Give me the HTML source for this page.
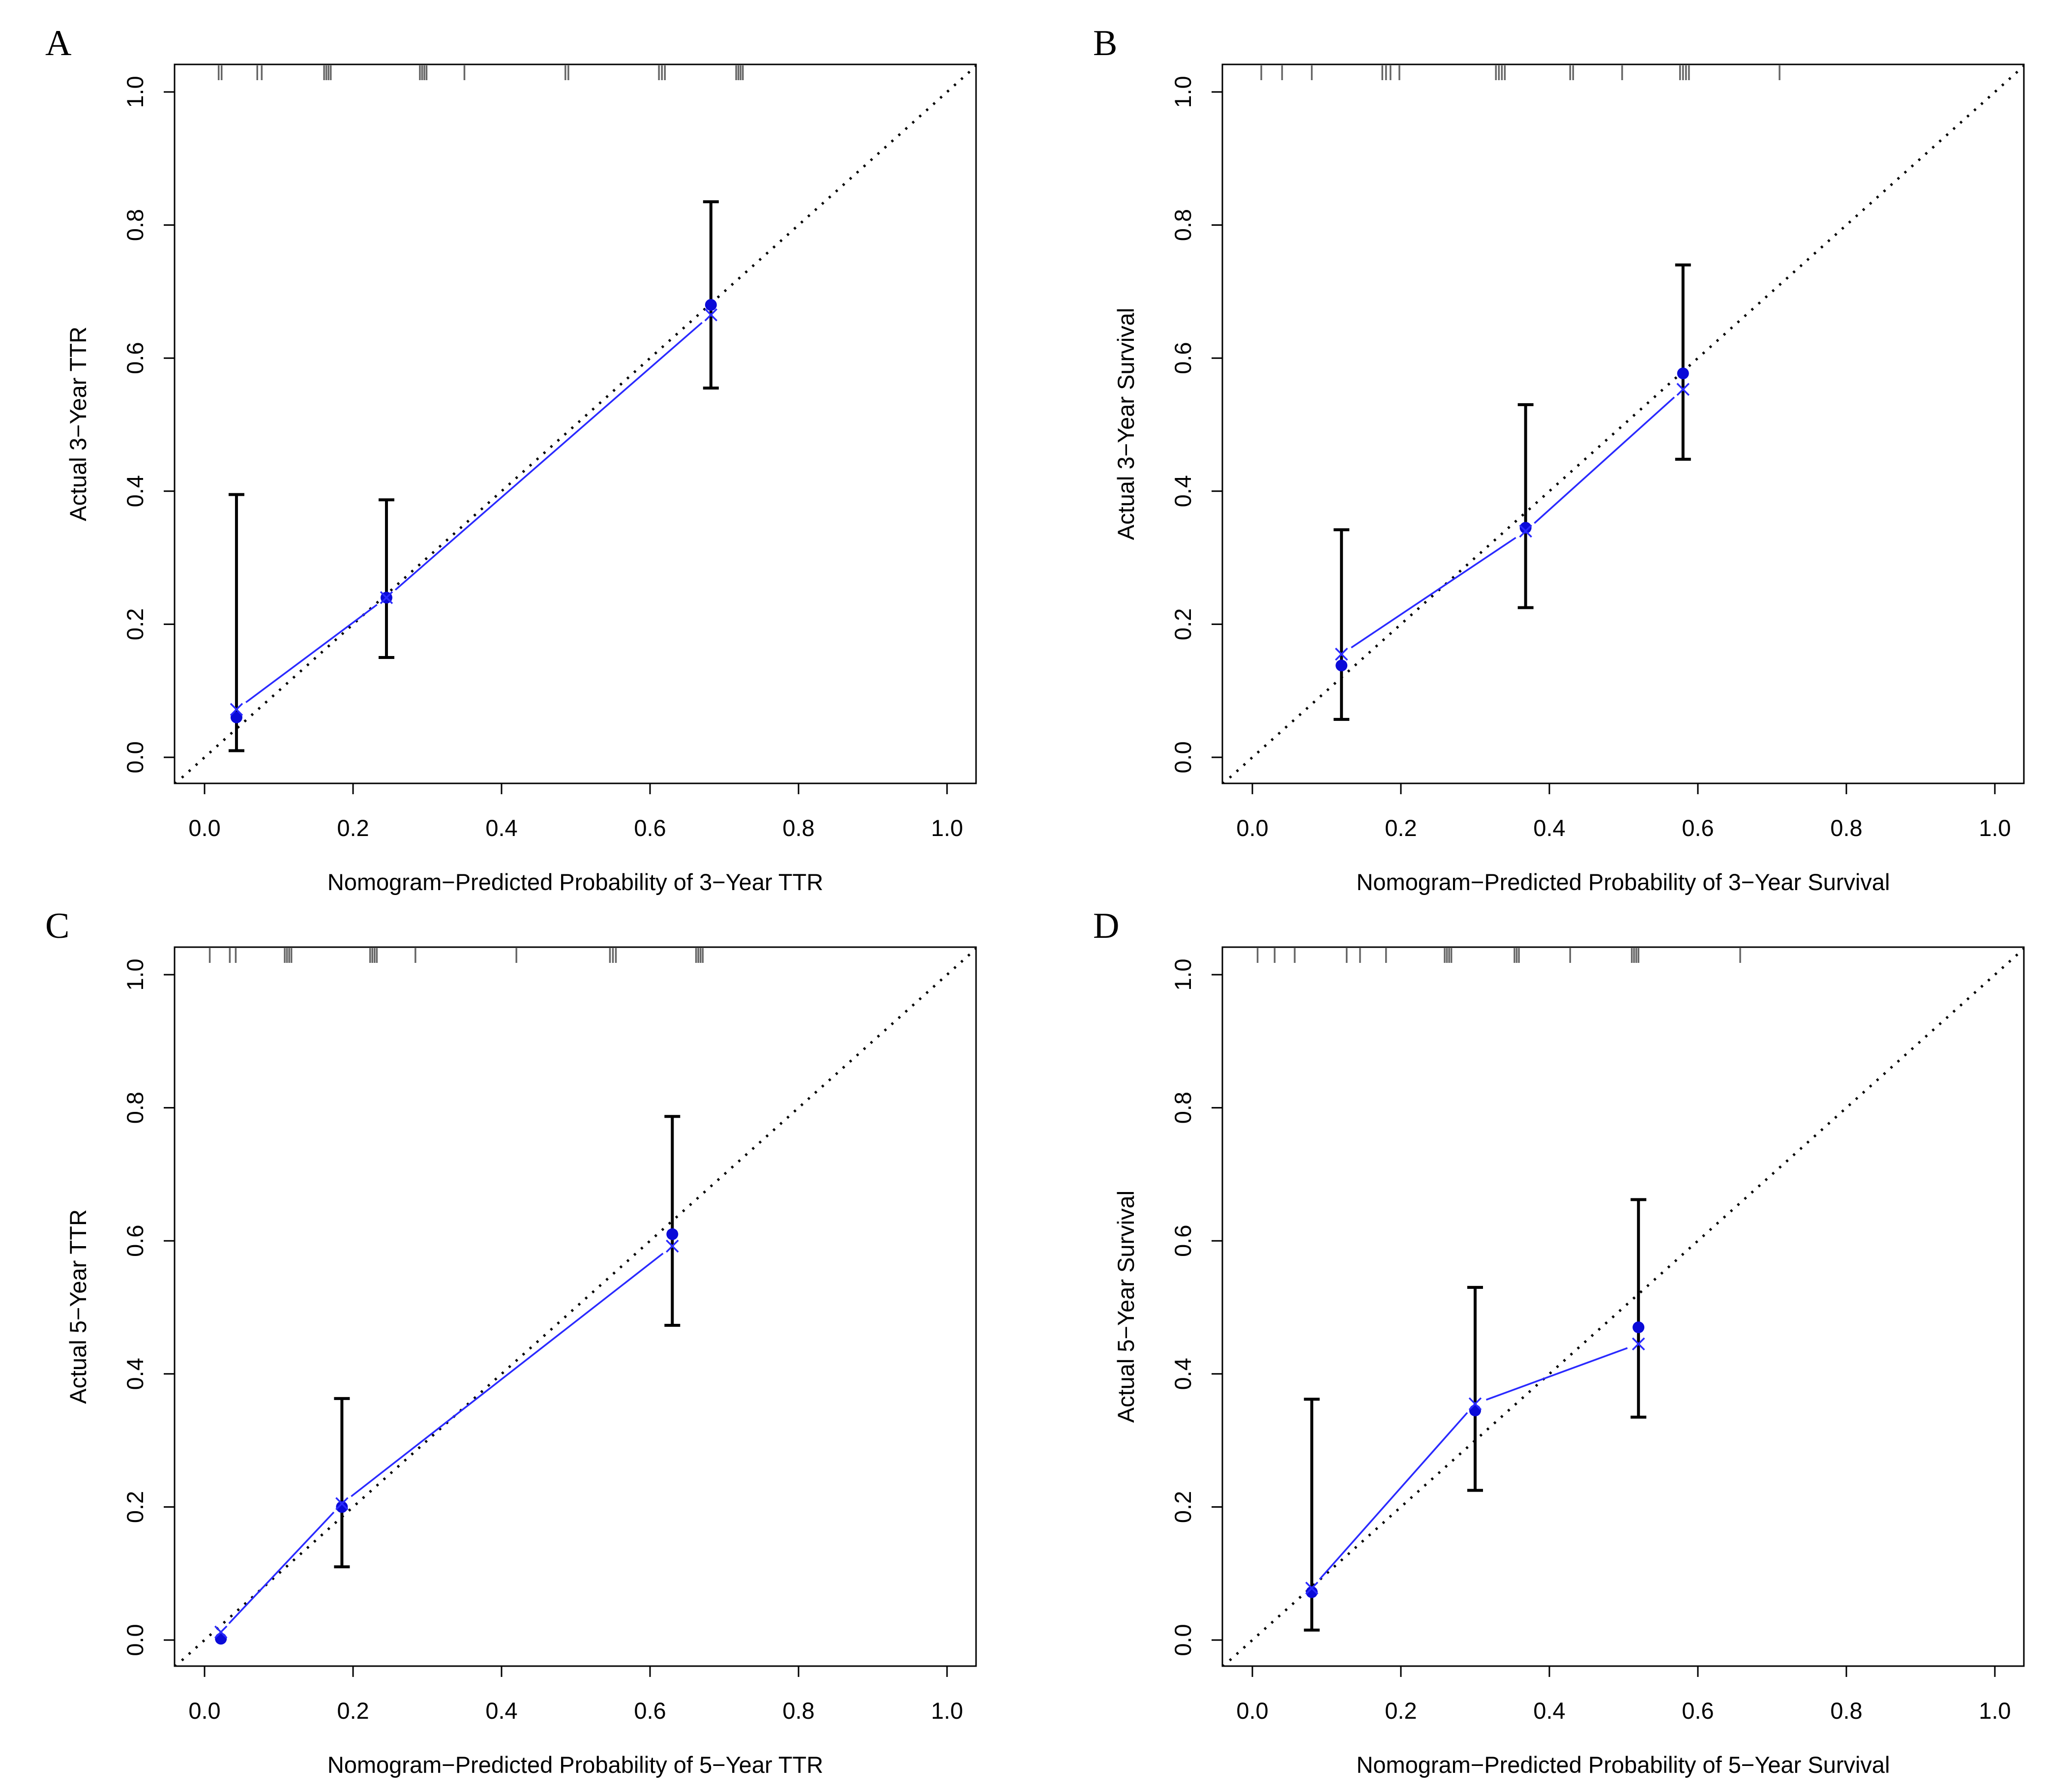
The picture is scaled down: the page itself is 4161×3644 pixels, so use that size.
<!DOCTYPE html>
<html><head><meta charset="utf-8"><style>
html,body{margin:0;padding:0;background:#fff;}
svg{display:block;font-family:"Liberation Sans",Arial,sans-serif;}
</style></head><body>
<svg id="fig" width="4161" height="3644" viewBox="0 0 4161 3644" xmlns="http://www.w3.org/2000/svg"></svg>
<script>
// ---- data ----
const panelLetters = ["A","B","C","D"];
const xTitles = ["Nomogram\u2212Predicted Probability of 3\u2212Year TTR","Nomogram\u2212Predicted Probability of 3\u2212Year Survival","Nomogram\u2212Predicted Probability of 5\u2212Year TTR","Nomogram\u2212Predicted Probability of 5\u2212Year Survival"];
const yTitles = ["Actual 3\u2212Year TTR","Actual 3\u2212Year Survival","Actual 5\u2212Year TTR","Actual 5\u2212Year Survival"];
const tickLabels = ["0.0","0.2","0.4","0.6","0.8","1.0"];
const tickValues = [0,0.2,0.4,0.6,0.8,1.0];
const predA = [0.043,0.245,0.682], obsA = [0.060,0.240,0.680], corA = [0.072,0.240,0.665], loA = [0.010,0.150,0.555], hiA = [0.395,0.387,0.835];
const predB = [0.120,0.368,0.580], obsB = [0.138,0.345,0.577], corB = [0.155,0.340,0.553], loB = [0.057,0.225,0.448], hiB = [0.342,0.530,0.740];
const predC = [0.022,0.185,0.630], obsC = [0.002,0.200,0.610], corC = [0.012,0.205,0.592], loC = [0.000,0.110,0.473], hiC = [0.004,0.363,0.787];
const predD = [0.080,0.300,0.520], obsD = [0.072,0.345,0.470], corD = [0.078,0.355,0.445], loD = [0.015,0.225,0.335], hiD = [0.362,0.530,0.662];
const rugA = [0.019,0.023,0.071,0.077,0.161,0.164,0.167,0.170,0.290,0.293,0.296,0.299,0.350,0.486,0.490,0.612,0.616,0.620,0.716,0.719,0.722,0.725];
const rugB = [0.012,0.040,0.080,0.175,0.180,0.186,0.198,0.328,0.332,0.336,0.340,0.428,0.432,0.498,0.576,0.580,0.584,0.588,0.710];
const rugC = [0.007,0.034,0.042,0.108,0.111,0.114,0.117,0.223,0.226,0.229,0.232,0.284,0.420,0.546,0.550,0.554,0.662,0.665,0.668,0.671];
const rugD = [0.007,0.030,0.057,0.127,0.145,0.180,0.259,0.262,0.265,0.268,0.353,0.356,0.359,0.428,0.511,0.514,0.517,0.520,0.657];

const panels = [
 {pred:predA,obs:obsA,cor:corA,lo:loA,hi:hiA,rug:rugA,ox:0,oy:0},
 {pred:predB,obs:obsB,cor:corB,lo:loB,hi:hiB,rug:rugB,ox:2131,oy:0},
 {pred:predC,obs:obsC,cor:corC,lo:loC,hi:hiC,rug:rugC,ox:0,oy:1795},
 {pred:predD,obs:obsD,cor:corD,lo:loD,hi:hiD,rug:rugD,ox:2131,oy:1795}
];
const NS="http://www.w3.org/2000/svg";
const svg=document.getElementById('fig');
function mk(tag,attrs,parent){const e=document.createElementNS(NS,tag);for(const k in attrs)e.setAttribute(k,attrs[k]);(parent||svg).appendChild(e);return e;}

panels.forEach((p,i)=>{
  const g=mk('g',{transform:`translate(${p.ox},${p.oy})`});
  
  
  const X0=416,XU=1510,Y0=1540,YU=1353;
  const sx=v=>X0+v*XU, sy=v=>Y0-v*YU;
  const L=355,R=1985,T=131,B=1593;
  const lt=mk('text',{x:92,y:112,'font-family':'"Liberation Serif",serif','font-size':74,fill:'#000'},g);
  lt.textContent=panelLetters[i];
  
  
  const cid='clip'+i;
  const cp=mk('clipPath',{id:cid},g); mk('rect',{x:L,y:T,width:R-L,height:B-T},cp);
  const dg=mk('line',{x1:sx(-0.04),y1:sy(-0.04),x2:sx(1.04),y2:sy(1.04),stroke:'#000','stroke-width':5,'stroke-dasharray':'4.5 14.5','clip-path':`url(#${cid})`},g);
  
  
  p.rug.forEach((v,k)=>{
    const r=mk('line',{x1:sx(v),y1:T+2,x2:sx(v),y2:T+32,stroke:'#666','stroke-width':3.5},g);
    
    
  });
  const bx=mk('rect',{x:L,y:T,width:R-L,height:B-T,fill:'none',stroke:'#000','stroke-width':3},g);
  
  
  tickValues.forEach((v,k)=>{
    const t=mk('line',{x1:sx(v),y1:B,x2:sx(v),y2:B+22,stroke:'#000','stroke-width':3},g);
    
    
    const tl=mk('text',{x:sx(v),y:1700,'font-size':47,'text-anchor':'middle',fill:'#000'},g);
    tl.textContent=tickLabels[k];
    
    
    const t2=mk('line',{x1:L,y1:sy(v),x2:L-22,y2:sy(v),stroke:'#000','stroke-width':3},g);
    
    
    const yl=mk('text',{x:0,y:0,'font-size':47,'text-anchor':'middle',fill:'#000',transform:`translate(291,${sy(v)}) rotate(-90)`},g);
    yl.textContent=tickLabels[k];
    
    
  });
  const xt=mk('text',{x:(L+R)/2,y:1810,'font-size':47,'text-anchor':'middle',fill:'#000'},g);
  xt.textContent=xTitles[i];
  
  
  const yt=mk('text',{x:0,y:0,'font-size':47,'text-anchor':'middle',fill:'#000',transform:`translate(175,${(T+B)/2}) rotate(-90)`},g);
  yt.textContent=yTitles[i];
  
  
  for(let k=0;k<p.pred.length-1;k++){
    const x1=sx(p.pred[k]),y1=sy(p.cor[k]),x2=sx(p.pred[k+1]),y2=sy(p.cor[k+1]);
    const d=Math.hypot(x2-x1,y2-y1),gap=24,ux=(x2-x1)/d,uy=(y2-y1)/d;
    const s=mk('line',{x1:x1+ux*gap,y1:y1+uy*gap,x2:x2-ux*gap,y2:y2-uy*gap,stroke:'#2a2aff','stroke-width':3.5},g);
    
    
  }
  p.pred.forEach((v,k)=>{
    const x=sx(v);
    if(p.hi[k]-p.lo[k]>0.01){
      const eb=mk('g',{stroke:'#000','stroke-width':6},g);
      
      
      mk('line',{x1:x,y1:sy(p.lo[k]),x2:x,y2:sy(p.hi[k])},eb);
      mk('line',{x1:x-16,y1:sy(p.lo[k]),x2:x+16,y2:sy(p.lo[k])},eb);
      mk('line',{x1:x-16,y1:sy(p.hi[k]),x2:x+16,y2:sy(p.hi[k])},eb);
    }
    const c=mk('circle',{cx:x,cy:sy(p.obs[k]),r:12,fill:'#0a0ad8'},g);
    
    
    const cy=sy(p.cor[k]);
    const xm=mk('path',{d:`M${x-12},${cy-12}L${x+12},${cy+12}M${x-12},${cy+12}L${x+12},${cy-12}`,stroke:'#2a2aff','stroke-width':3.5,fill:'none'},g);
    
    
  });
});
</script>
</body></html>
